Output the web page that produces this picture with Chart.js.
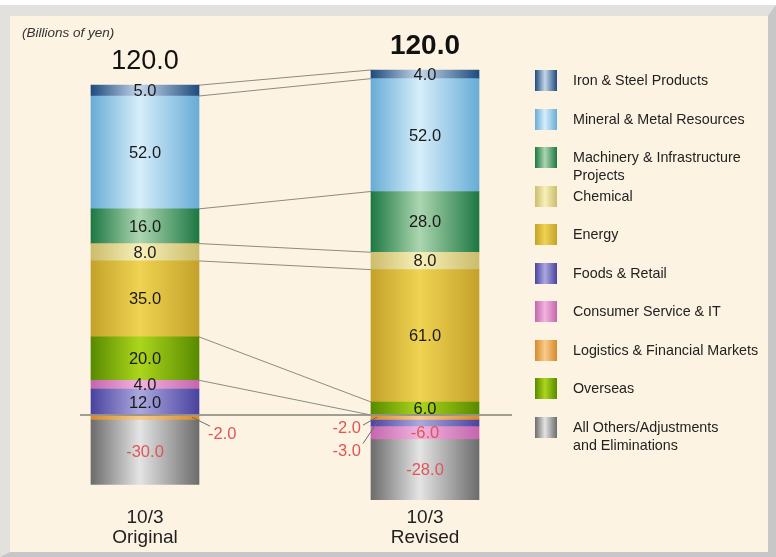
<!DOCTYPE html>
<html>
<head>
<meta charset="utf-8">
<script src="https://cdn.jsdelivr.net/npm/chart.js@4.4.1/dist/chart.umd.min.js"></script>
<style>
  html, body { margin: 0; padding: 0; background: #ffffff; }
  #wrap { position: relative; width: 776px; height: 557px; overflow: hidden; font-family: "Liberation Sans", Arial, sans-serif; }
  #panel {
    position: absolute; left: 0; top: 5px; width: 776px; height: 552px; box-sizing: border-box;
    border-style: solid; border-width: 11px 8px 5px 10px;
    border-color: #e3e1dd #c7c7c7 #c7c7c7 #e3e1dd;
    background: #fdf3e2;
  }
  #chart { position: absolute; left: 0; top: 0; }
  #unit { position: absolute; left: 22px; top: 25px; font-size: 13.5px; font-style: italic; color: #333; }
  .item { position: absolute; left: 535px; height: 21px; }
  .sw { position: absolute; left: 0; top: 0; width: 22px; height: 21px; }
  .txt { position: absolute; left: 38px; top: 1px; width: 230px; font-size: 14.3px; line-height: 18px; color: #222; white-space: pre-line; }
</style>
</head>
<body>
<div id="wrap">
  <div id="panel"></div>
  <canvas id="chart" width="776" height="557"></canvas>
  <div id="unit">(Billions of yen)</div>
  <div id="legend"></div>
</div>
<script>
// Segments (legend order)
var segments = ['Iron & Steel Products', 'Mineral & Metal Resources', 'Machinery & Infrastructure\nProjects',
  'Chemical', 'Energy', 'Foods & Retail', 'Consumer Service & IT', 'Logistics & Financial Markets',
  'Overseas', 'All Others/Adjustments\nand Eliminations'];
var original = [5, 52, 16, 8, 35, 12, 4, -2, 20, -30];
var revised  = [4, 52, 28, 8, 61, -3, -6, -2, 6, -28];
var categories = [['10/3', 'Original'], ['10/3', 'Revised']];

// gradient colours: edge, middle
var edgeColors = ['#1f4b7d', '#68acd6', '#1d7843', '#cbbd6c', '#c4a22a', '#4943a0', '#c466ae', '#d68a2a', '#588a00', '#6c6c6c'];
var midColors  = ['#c4d7ea', '#d6eefa', '#acd6b0', '#f7f0ba', '#f0d352', '#aca8de', '#f2b4de', '#f9cb8c', '#acd61c', '#e4e4e4'];

// order the segments are stacked in (from zero outwards)
var stackOrder = [7, 5, 6, 8, 4, 3, 2, 1, 0, 9];
// boundaries joined between the two bars (bottom edge of each)
var joinOrder = [8, 4, 3, 2, 1, 0];

var BAR_W = 108;

function makeGradient(i) {
    return function(c) {
        var chart = c.chart;
        var xs = chart.scales.x;
        if (!xs || !chart.chartArea) return midColors[i];
        var cx = xs.getPixelForValue(c.dataIndex);
        var g = chart.ctx.createLinearGradient(cx - BAR_W / 2, 0, cx + BAR_W / 2, 0);
        g.addColorStop(0, edgeColors[i]);
        g.addColorStop(0.45, midColors[i]);
        g.addColorStop(1, edgeColors[i]);
        return g;
    };
}

// Legend (html)
var legend = document.getElementById('legend');
for (var i = 0; i < segments.length; i++) {
    var item = document.createElement('div');
    item.className = 'item';
    item.style.top = (70 + i * 38.5) + 'px';
    var sw = document.createElement('div');
    sw.className = 'sw';
    sw.style.background = 'linear-gradient(to right, ' + edgeColors[i] + ' 0%, ' + midColors[i] + ' 45%, ' + edgeColors[i] + ' 100%)';
    var txt = document.createElement('div');
    txt.className = 'txt';
    txt.textContent = segments[i];
    item.appendChild(sw);
    item.appendChild(txt);
    legend.appendChild(item);
}

var datasets = stackOrder.map(function(i) {
    return {
        label: segments[i].replace('\n', ' '),
        data: [original[i], revised[i]],
        backgroundColor: makeGradient(i),
        borderWidth: 0,
        barThickness: BAR_W,
        stack: 's',
        clip: false
    };
});

// Function to draw value labels, totals and joining lines
var overlayPlugin = {
    id: 'overlay',
    beforeDatasetsDraw: function(chart) {
        var ctx = chart.ctx;
        ctx.save();
        ctx.strokeStyle = '#8c8a80';
        ctx.lineWidth = 1;
        joinOrder.forEach(function(seg, n) {
            var meta = chart.getDatasetMeta(stackOrder.indexOf(seg));
            var a = meta.data[0], b = meta.data[1];
            ctx.beginPath();
            ctx.moveTo(a.x + BAR_W / 2, a.base);
            ctx.lineTo(b.x - BAR_W / 2, b.base);
            ctx.stroke();
            if (n === joinOrder.length - 1) {
                ctx.beginPath();
                ctx.moveTo(a.x + BAR_W / 2, a.y);
                ctx.lineTo(b.x - BAR_W / 2, b.y);
                ctx.stroke();
            }
        });
        ctx.restore();
    },
    afterDatasetsDraw: function(chart) {
        var ctx = chart.ctx;
        var ys = chart.scales.y;
        var zeroY = ys.getPixelForValue(0);
        var first = chart.getDatasetMeta(0).data;
        ctx.save();

        // zero line
        ctx.strokeStyle = 'rgba(150, 148, 136, 0.9)';
        ctx.lineWidth = 2;
        ctx.beginPath();
        ctx.moveTo(first[0].x - BAR_W / 2 - 11, zeroY);
        ctx.lineTo(first[1].x + BAR_W / 2 + 33, zeroY);
        ctx.stroke();

        ctx.font = '16.5px "Liberation Sans", Arial, sans-serif';
        ctx.textBaseline = 'middle';
        var outside = [0, 0];
        chart.data.datasets.forEach(function(ds, d) {
            var meta = chart.getDatasetMeta(d);
            ds.data.forEach(function(v, j) {
                var el = meta.data[j];
                var cy = (el.y + el.base) / 2;
                var txt = v.toFixed(1);
                ctx.fillStyle = v < 0 ? '#e05555' : '#1a1a1a';
                if (v < 0 && v > -4) {
                    var k = outside[j]++;
                    ctx.strokeStyle = '#6d6b64';
                    ctx.lineWidth = 1;
                    ctx.beginPath();
                    if (j === 0) {
                        var r = el.x + BAR_W / 2;
                        ctx.moveTo(r - 7, cy);
                        ctx.lineTo(r + 11, cy + 9 + 13 * k);
                        ctx.stroke();
                        ctx.textAlign = 'left';
                        ctx.fillText(txt, r + 9, cy + 17 + 18 * k);
                    } else {
                        var l = el.x - BAR_W / 2;
                        ctx.moveTo(l + 6, cy);
                        ctx.lineTo(l - 8, cy + 8 + 13 * k);
                        ctx.stroke();
                        ctx.textAlign = 'right';
                        ctx.fillText(txt, l - 10, cy + 11 + 18 * k);
                    }
                } else {
                    ctx.textAlign = 'center';
                    ctx.fillText(txt, el.x, cy + 1);
                }
            });
        });

        // totals above bars
        [original, revised].forEach(function(arr, j) {
            var total = 0, pos = 0;
            arr.forEach(function(v) { total += v; if (v > 0) pos += v; });
            var top = ys.getPixelForValue(pos);
            ctx.fillStyle = '#111';
            ctx.textAlign = 'center';
            ctx.font = (j === 1 ? 'bold 28px' : '27px') + ' "Liberation Sans", Arial, sans-serif';
            ctx.fillText(total.toFixed(1), first[j].x, top - 24);
        });
        ctx.restore();
    }
};

var chart = new Chart(document.getElementById('chart').getContext('2d'), {
    type: 'bar',
    data: { labels: categories, datasets: datasets },
    options: {
        responsive: false,
        animation: false,
        devicePixelRatio: 1,
        layout: { padding: { left: 145, right: 351, top: 67.8, bottom: 9.4 } },
        plugins: { legend: { display: false }, tooltip: { enabled: false } },
        scales: {
            x: {
                stacked: true,
                offset: false,
                grid: { display: false, drawTicks: false },
                border: { display: false },
                ticks: {
                    color: '#222',
                    padding: 6,
                    maxRotation: 0,
                    font: { family: '"Liberation Sans", Arial, sans-serif', size: 19, lineHeight: 1.05 }
                },
                afterFit: function(scale) { scale.height = 45.8; }
            },
            y: {
                stacked: true,
                display: false,
                min: -40,
                max: 160
            }
        }
    },
    plugins: [overlayPlugin]
});
</script>
</body>
</html>
